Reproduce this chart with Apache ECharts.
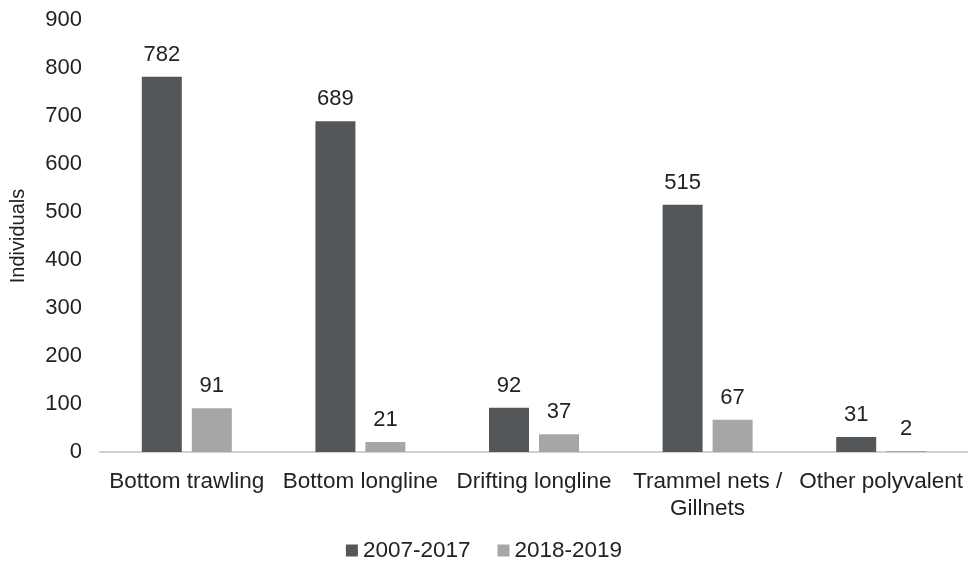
<!DOCTYPE html>
<html><head><meta charset="utf-8">
<script src="https://cdn.jsdelivr.net/npm/echarts@6/dist/echarts.min.js"></script>
<style>html,body{margin:0;padding:0;background:#fff}#c{width:968px;height:564px}</style>
</head><body><div id="c"></div>
<script>
const categories = ['Bottom trawling', 'Bottom longline', 'Drifting longline', 'Trammel nets /\nGillnets', 'Other polyvalent'];
const series1Name = '2007-2017';
const series2Name = '2018-2019';
const values1 = [782, 689, 92, 515, 31];
const values2 = [91, 21, 37, 67, 2];
const yTicks = [0, 100, 200, 300, 400, 500, 600, 700, 800, 900];

const font = 'Liberation Sans, Arial, sans-serif';
const chart = echarts.init(document.getElementById('c'));
const lbl = {show: true, position: 'top', distance: 11, color: '#222', fontSize: 22, fontFamily: font};
chart.setOption({
  animation: false,
  grid: {left: 94, right: -5, top: 20, bottom: 112},
  legend: {bottom: -3, left: 'center', itemWidth: 12, itemHeight: 12, itemGap: 27,
    icon: 'rect', textStyle: {fontSize: 22.5, fontFamily: font, color: '#222'},
    data: [series1Name, series2Name]},
  xAxis: {type: 'category', data: categories,
    axisLine: {lineStyle: {color: '#d0d0d0', width: 2}},
    axisTick: {show: false},
    axisLabel: {color: '#222', fontSize: 22.5, fontFamily: font, margin: 16, lineHeight: 27, interval: 0}},
  yAxis: {type: 'value', min: 0, max: yTicks[yTicks.length-1], interval: 100,
    name: 'Individuals', nameLocation: 'middle', nameGap: 72, nameRotate: 90,
    nameTextStyle: {color: '#222', fontSize: 20, fontFamily: font},
    axisLine: {show: false}, axisTick: {show: false}, splitLine: {show: false},
    axisLabel: {color: '#222', fontSize: 22, fontFamily: font, margin: 18}},
  series: [
    {name: series1Name, type: 'bar', data: values1, barWidth: 40, barGap: '25%',
      itemStyle: {color: '#54575a'}, label: lbl},
    {name: series2Name, type: 'bar', data: values2, barWidth: 40,
      itemStyle: {color: '#a6a6a6'}, label: lbl}
  ]
});
</script></body></html>
